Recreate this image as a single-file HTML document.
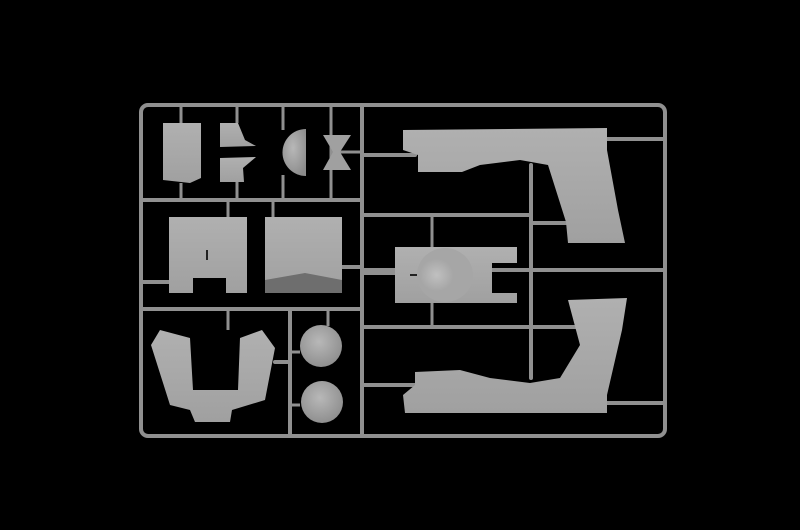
<!DOCTYPE html>
<html><head><meta charset="utf-8"><style>
html,body{margin:0;padding:0;background:#000;width:800px;height:530px;overflow:hidden}
</style></head><body>
<svg width="800" height="530" viewBox="0 0 800 530" xmlns="http://www.w3.org/2000/svg">
<defs>
<radialGradient id="sph" cx="45%" cy="40%" r="65%"><stop offset="0" stop-color="#b8b8b8"/><stop offset="1" stop-color="#8c8c8c"/></radialGradient>
<linearGradient id="pl" x1="0" y1="0" x2="0" y2="1"><stop offset="0" stop-color="#b0b0b0"/><stop offset="1" stop-color="#a0a0a0"/></linearGradient>
<radialGradient id="bowl" cx="35%" cy="50%" r="30%"><stop offset="0" stop-color="#c0c0c0"/><stop offset="1" stop-color="#a6a6a6"/></radialGradient>
</defs>
<rect width="800" height="530" fill="#000"/>
<g stroke="#909090" stroke-width="4" fill="none" stroke-linecap="round">
<rect x="141" y="105" width="524" height="331" rx="7"/>
<line x1="362" y1="105" x2="362" y2="436"/>
<line x1="141" y1="200" x2="362" y2="200"/>
<line x1="141" y1="309" x2="362" y2="309"/>
<line x1="290" y1="309" x2="290" y2="436"/>
<line x1="362" y1="215" x2="531" y2="215"/>
<line x1="362" y1="270" x2="665" y2="270"/>
<line x1="362" y1="327" x2="580" y2="327"/>
<line x1="531" y1="165" x2="531" y2="378"/>
<line x1="531" y1="223" x2="570" y2="223"/>
<line x1="607" y1="139" x2="665" y2="139"/>
<line x1="607" y1="403" x2="665" y2="403"/>
<line x1="362" y1="155" x2="415" y2="155"/>
<line x1="362" y1="385" x2="415" y2="385"/>
<line x1="141" y1="282" x2="169" y2="282"/>
<line x1="342" y1="267" x2="362" y2="267"/>
<line x1="362" y1="273" x2="395" y2="273"/>
<line x1="275" y1="362" x2="290" y2="362"/>
</g>
<g stroke="#909090" stroke-width="3">
<line x1="181" y1="105" x2="181" y2="123"/><line x1="237" y1="105" x2="237" y2="123"/>
<line x1="283" y1="105" x2="283" y2="130"/><line x1="331" y1="105" x2="331" y2="200"/>
<line x1="181" y1="183" x2="181" y2="200"/><line x1="237" y1="182" x2="237" y2="200"/>
<line x1="283" y1="175" x2="283" y2="200"/>
<line x1="228" y1="200" x2="228" y2="217"/><line x1="273" y1="200" x2="273" y2="217"/>
<line x1="330" y1="152" x2="360" y2="152"/>
<line x1="228" y1="309" x2="228" y2="330"/><line x1="328" y1="309" x2="328" y2="326"/>
<line x1="290" y1="352" x2="300" y2="352"/><line x1="290" y1="405" x2="300" y2="405"/>
<line x1="432" y1="215" x2="432" y2="247"/><line x1="432" y1="303" x2="432" y2="327"/>
</g>
<g fill="url(#pl)">
<path d="M163 123 L201 123 L201 178 L190 183 L163 180 Z"/>
<path d="M220 123 L238 123 L245 140 L256 146 L220 147 Z"/>
<path d="M220 158 L256 157 L243 168 L244 182 L220 182 Z"/>
<path d="M169 217 L247 217 L247 293 L226 293 L226 278 L193 278 L193 293 L169 293 Z"/>
<path d="M265 217 L342 217 L342 293 L265 293 Z"/>
<path d="M151 345 L160 330 L190 338 L193 390 L238 390 L240 338 L262 330 L275 348 L265 400 L232 410 L230 422 L195 422 L190 410 L170 405 Z"/>
<path d="M403 130 L607 128 L607 150 L618 210 L625 243 L568 243 L566 222 L548 165 L520 160 L480 165 L462 172 L418 172 L418 155 L403 150 Z"/>
<path d="M395 247 L517 247 L517 263 L492 263 L492 293 L517 293 L517 303 L395 303 Z"/>
<path d="M403 395 L415 385 L415 372 L460 370 L490 378 L530 383 L560 378 L580 345 L568 300 L627 298 L622 330 L607 395 L607 413 L405 413 Z"/>
</g>
<path d="M265 280 L305 273 L342 280 L342 293 L265 293 Z" fill="#6e6e6e"/>
<ellipse cx="445" cy="275" rx="28" ry="27" fill="url(#bowl)"/>
<path d="M306 129 A23 23 0 1 0 306 176 Z" fill="url(#sph)"/>
<path d="M323 135 L351 135 L340 152 L351 170 L323 170 L333 152 Z" fill="#a0a0a0"/>
<circle cx="321" cy="346" r="21" fill="url(#sph)"/>
<circle cx="322" cy="402" r="21" fill="url(#sph)"/>
<line x1="207" y1="250" x2="207" y2="260" stroke="#222" stroke-width="2"/>
<line x1="410" y1="275" x2="417" y2="275" stroke="#222" stroke-width="2"/>
</svg>
</body></html>
